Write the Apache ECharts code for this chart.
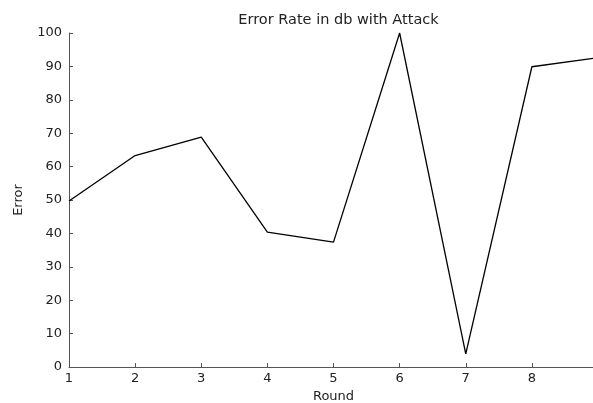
<!DOCTYPE html>
<html>
<head>
<meta charset="utf-8">
<script src="https://cdn.jsdelivr.net/npm/echarts@6/dist/echarts.min.js"></script>
<style>html,body{margin:0;padding:0;background:#fff;overflow:hidden;}#c{width:593px;height:403px;}</style>
</head>
<body>
<div id="c"></div>
<script>
const rounds = [1, 2, 3, 4, 5, 6, 7, 8, 9];
const errors = [49.7, 63.3, 68.8, 40.4, 37.4, 100, 3.9, 89.9, 92.6];
const xTicks = [1, 2, 3, 4, 5, 6, 7, 8];
const yTicks = [0, 10, 20, 30, 40, 50, 60, 70, 80, 90, 100];

const chart = echarts.init(document.getElementById('c'), null, {renderer: 'canvas'});
const font = 'DejaVu Sans, Verdana, sans-serif';
const gridLeft = 69, gridRight = -5;
chart.setOption({
  animation: false,
  backgroundColor: '#fff',
  title: {
    text: 'Error Rate in db with Attack',
    left: gridLeft + (593 - gridLeft - gridRight) / 2,
    textAlign: 'center',
    top: 8,
    textStyle: {fontFamily: font, fontSize: 14.5, fontWeight: 'normal', color: '#222'}
  },
  grid: {left: gridLeft, right: gridRight, top: 33, bottom: 36, containLabel: false, outerBoundsMode: 'none'},
  xAxis: {
    type: 'value', min: 1, max: 9, interval: 1,
    name: 'Round', nameLocation: 'middle', nameGap: 23, nameMoveOverlap: false,
    nameTextStyle: {fontFamily: font, fontSize: 13, color: '#222'},
    axisLine: {show: true, lineStyle: {color: '#555', width: 1}},
    axisTick: {show: true, inside: true, length: 4, lineStyle: {color: '#555'}},
    axisLabel: {fontFamily: font, fontSize: 13, color: '#222', margin: 5,
      formatter: v => xTicks.includes(v) ? String(v) : ''},
    splitLine: {show: false}
  },
  yAxis: {
    type: 'value', min: 0, max: 100, interval: 10,
    name: 'Error', nameLocation: 'middle', nameGap: 44, nameRotate: 90, nameMoveOverlap: false,
    nameTextStyle: {fontFamily: font, fontSize: 13, color: '#222'},
    axisLine: {show: true, lineStyle: {color: '#555', width: 1}},
    axisTick: {show: true, inside: true, length: 4, lineStyle: {color: '#555'}},
    axisLabel: {fontFamily: font, fontSize: 13, color: '#222', margin: 7,
      formatter: v => yTicks.includes(v) ? String(v) : ''},
    splitLine: {show: false}
  },
  series: [{
    type: 'line',
    data: rounds.map((r, i) => [r, errors[i]]),
    showSymbol: false,
    symbol: 'none',
    lineStyle: {color: '#000', width: 1.3},
    clip: true
  }]
});
</script>
</body>
</html>
